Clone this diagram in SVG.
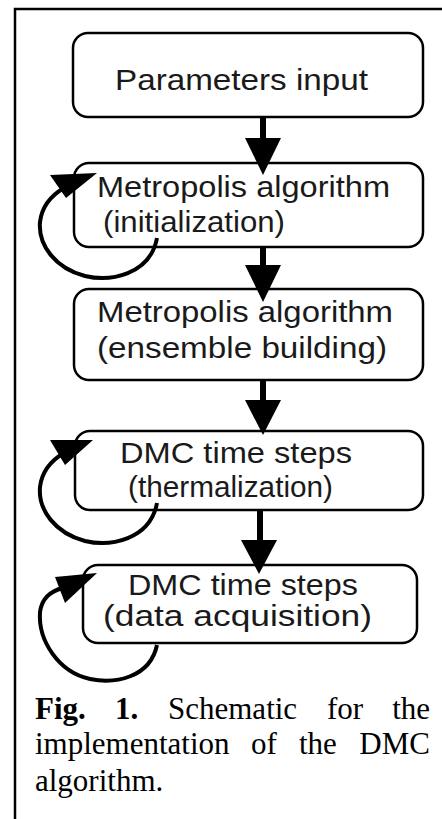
<svg xmlns="http://www.w3.org/2000/svg" width="442" height="819" viewBox="0 0 442 819">
<style>
.box{fill:#fff;stroke:#000;stroke-width:2.5}
.t{font-family:"Liberation Sans",Arial,sans-serif;font-size:29px;fill:#1a1a1a}
.cap{font-family:"Liberation Serif","Times New Roman",serif;font-size:31px;fill:#000}
.shaft{stroke:#000;stroke-width:6;fill:none}
.loop{stroke:#000;stroke-width:4;fill:none}
.head{fill:#000}
</style>
<rect width="442" height="819" fill="#fff"/>
<path d="M15,819 V9 H442" fill="none" stroke="#000" stroke-width="2.5"/>
<g id="n1"><rect class="box" x="73" y="33" width="350" height="84" rx="15"/>
<text class="t" x="115" y="90" textLength="253" lengthAdjust="spacingAndGlyphs">Parameters input</text></g>
<g id="n2"><rect class="box" x="74" y="163" width="349" height="84" rx="15"/>
<text class="t" x="97" y="197" textLength="293" lengthAdjust="spacingAndGlyphs">Metropolis algorithm</text>
<text class="t" x="103" y="232" textLength="182" lengthAdjust="spacingAndGlyphs">(initialization)</text></g>
<g id="n3"><rect class="box" x="74" y="289" width="349" height="91" rx="15"/>
<text class="t" x="97" y="322" textLength="296" lengthAdjust="spacingAndGlyphs">Metropolis algorithm</text>
<text class="t" x="97" y="358" textLength="290" lengthAdjust="spacingAndGlyphs">(ensemble building)</text></g>
<g id="n4"><rect class="box" x="75" y="431" width="348" height="79" rx="15"/>
<text class="t" x="120" y="463" textLength="232" lengthAdjust="spacingAndGlyphs">DMC time steps</text>
<text class="t" x="128" y="497" textLength="205" lengthAdjust="spacingAndGlyphs">(thermalization)</text></g>
<g id="n5"><rect class="box" x="83" y="565" width="334" height="78" rx="15"/>
<text class="t" x="128" y="595" textLength="230" lengthAdjust="spacingAndGlyphs">DMC time steps</text>
<text class="t" x="103" y="626" textLength="269" lengthAdjust="spacingAndGlyphs">(data acquisition)</text></g>
<g id="connectors">
<line class="shaft" x1="263" y1="117" x2="263" y2="140"/>
<polygon class="head" points="245,138 281,138 263,175"/>
<line class="shaft" x1="263" y1="247" x2="263" y2="267"/>
<polygon class="head" points="245,265 281,265 263,302"/>
<line class="shaft" x1="263" y1="380" x2="263" y2="402"/>
<polygon class="head" points="245,400 281,400 263,435"/>
<line class="shaft" x1="260" y1="510" x2="260" y2="542"/>
<polygon class="head" points="241,540 277,540 259,574"/>
<path class="loop" d="M157,238 C150,275 110,282 85,276 C55,268 38,245 40,222 C42,205 52,195 64,188"/>
<polygon class="head" points="50,175 97,173 66,198"/>
<path class="loop" d="M157,503 C150,540 110,547 85,541 C55,533 38,510 40,487 C42,470 52,460 64,453"/>
<polygon class="head" points="50,440 93,440 65,465"/>
<path class="loop" d="M157,645 C150,678 115,684 90,679 C58,672 38,640 40,612 C42,598 50,592 62,588"/>
<polygon class="head" points="55,577 97,573 65,603"/>
</g>
<g id="caption">
<text class="cap" x="35" y="719" font-weight="bold">Fig.</text>
<text class="cap" x="115" y="719" font-weight="bold">1.</text>
<text class="cap" x="168" y="719">Schematic</text>
<text class="cap" x="327" y="719">for</text>
<text class="cap" x="430" y="719" text-anchor="end">the</text>
<text class="cap" x="35" y="754">implementation</text>
<text class="cap" x="251" y="754">of</text>
<text class="cap" x="299" y="754">the</text>
<text class="cap" x="430" y="754" text-anchor="end">DMC</text>
<text class="cap" x="35" y="791">algorithm.</text>
</g>
</svg>
